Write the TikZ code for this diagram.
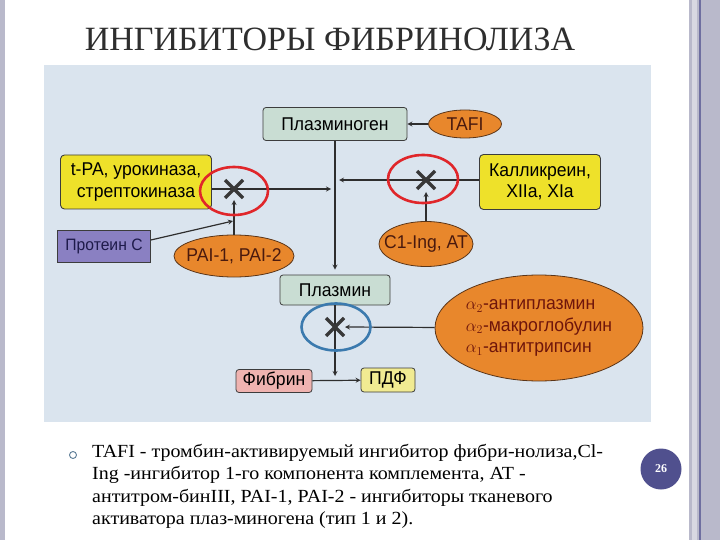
\documentclass[tikz,border=0pt]{standalone}
\usepackage{fontspec}
\setmainfont{Liberation Serif}
\newfontfamily\figfont[FakeStretch=0.95]{Liberation Sans}
\newfontfamily\notefont[FakeStretch=1.08]{Liberation Serif}
\usetikzlibrary{shapes.geometric}

\definecolor{figbg}{HTML}{DAE4EE}
\definecolor{plgfill}{HTML}{C9DDD3}
\definecolor{boxedge}{HTML}{3C3C3C}
\definecolor{actfill}{HTML}{EEE12A}
\definecolor{inhfill}{HTML}{E8872C}
\definecolor{inhedge}{HTML}{5B3518}
\definecolor{inhtext}{HTML}{4A1A0E}
\definecolor{protfill}{HTML}{8A80C2}
\definecolor{prottext}{HTML}{1E1A4A}
\definecolor{fibfill}{HTML}{EFB3B0}
\definecolor{pdffill}{HTML}{F1EB92}
\definecolor{linkcol}{HTML}{2E2E2E}
\definecolor{xcol}{HTML}{383838}
\definecolor{ringred}{HTML}{E0262A}
\definecolor{ringblue}{HTML}{3B7AAE}
\definecolor{pagenum}{HTML}{50508E}
\definecolor{bordlight}{HTML}{B9B9CB}
\definecolor{bordpale}{HTML}{D8D8E2}
\definecolor{borddark}{HTML}{6E6EA0}
\definecolor{titletext}{HTML}{2E2E2E}

\newcommand\figtxt{\figfont\fontsize{18.5}{21.5}\selectfont}
\newcommand\nowidth[1]{\makebox[0pt]{#1}}

\begin{document}
\begin{tikzpicture}[->,>=stealth,x=1pt,y=-1pt,
	link/.style={draw=linkcol,line width=1.2pt},
	plbox/.style={draw=boxedge,fill=plgfill,line width=0.8pt,rounded corners=3pt,inner sep=0pt,font=\figtxt},
	actbox/.style={draw=boxedge,fill=actfill,line width=0.9pt,rounded corners=4pt,inner sep=0pt,align=center,font=\figtxt},
	inhib/.style={ellipse,draw=inhedge,fill=inhfill,line width=0.8pt,inner sep=0pt,text=inhtext,font=\figtxt},
	ring/.style={ellipse,line width=2.6pt,inner sep=0pt},
	xmark/.style={-,draw=xcol,line width=3.2pt}]
	\useasboundingbox (0,0) rectangle (720,540);
	\fill[white] (0,0) rectangle (720,540);
	\fill[bordlight] (0,0) rectangle (5,540);
	\fill[bordlight] (689,0) rectangle (720,540);
	\fill[bordpale] (692,0) rectangle (697,540);
	\fill[borddark] (699,0) rectangle (701,540);
	\fill[figbg] (44,65) rectangle (651,422);
	\node (ttl) at (330,39) {\color{titletext}\fontsize{34}{40}\selectfont ИНГИБИТОРЫ ФИБРИНОЛИЗА};
	\node (plg) [plbox, minimum width=144pt, minimum height=33pt] at (335,124) {Плазминоген};
	\node (tafi) [inhib, minimum width=73pt, minimum height=28pt, node distance=130pt, right of=plg] {TAFI};
	\coordinate (xl) at (234,189);
	\coordinate (xr) at (426,180);
	\coordinate (xb) at (335,327);
	\node (tpa) [actbox, minimum width=151pt, minimum height=54pt] at (136,182) {t-PA, урокиназа,\\стрептокиназа};
	\node (kal) [actbox, minimum width=121pt, minimum height=55pt] at (540,182) {Калликреин,\\XIIa, XIa};
	\node (pai) [inhib, minimum width=120pt, minimum height=42pt, node distance=67pt, below of=xl] {\nowidth{PAI-1, PAI-2}};
	\node (prot) [draw=boxedge, fill=protfill, line width=0.8pt, inner sep=0pt, minimum width=93pt, minimum height=32pt, text=prottext, font=\figfont\fontsize{16.5}{20}\selectfont] at (104,246) {Протеин С};
	\node (c1) [inhib, minimum width=94pt, minimum height=45pt, node distance=64pt, below of=xr] {\nowidth{C1-Ing, AT}};
	\node (plm) [plbox, minimum width=110pt, minimum height=30pt, node distance=166pt, below of=plg] {Плазмин};
	\node (alpha) [inhib, minimum width=208pt, minimum height=106pt, align=left, text=inhtext!80!red] at (539,328) {$\alpha_2$-антиплазмин\\$\alpha_2$-макроглобулин\\$\alpha_1$-антитрипсин};
	\node (fib) [plbox, fill=fibfill, minimum width=76pt, minimum height=23pt] at (274,381) {Фибрин};
	\node (pdf) [plbox, fill=pdffill, minimum width=54pt, minimum height=24pt] at (388,380) {ПДФ};
	\coordinate (pj) at (233,221);
	\draw[link] (tafi) -- (plg);
	\draw[link, shorten >=5pt] (plg) -- (plm);
	\draw[link] (tpa.east |- xl) -- ([xshift=-4pt]plg.south |- xl);
	\draw[link] (kal.west |- xr) -- ([xshift=4pt]plg.south |- xr);
	\draw[link] (pai) -- ([yshift=-11pt]xl);
	\draw[link] ([yshift=6pt]prot.east) -- (pj);
	\draw[link] (c1) -- ([yshift=-12pt]xr);
	\draw[link] (alpha) -- ([xshift=10pt]xb);
	\draw[link] (plm) -- ([yshift=5pt]plm.south |- fib);
	\draw[link] (fib) -- (pdf);
	\draw[xmark] ([shift={(-9,-9)}]xl) -- ([shift={(9,9)}]xl);
	\draw[xmark] ([shift={(-9,9)}]xl) -- ([shift={(9,-9)}]xl);
	\draw[xmark] ([shift={(-9,-9)}]xr) -- ([shift={(9,9)}]xr);
	\draw[xmark] ([shift={(-9,9)}]xr) -- ([shift={(9,-9)}]xr);
	\draw[xmark] ([shift={(-9,-9)}]xb) -- ([shift={(9,9)}]xb);
	\draw[xmark] ([shift={(-9,9)}]xb) -- ([shift={(9,-9)}]xb);
	\node (rl) [ring, draw=ringred, minimum width=68pt, minimum height=48pt] at (234,191) {};
	\node (rr) [ring, draw=ringred, minimum width=70pt, minimum height=48pt] at (423,179) {};
	\node (rb) [ring, draw=ringblue, minimum width=69pt, minimum height=47pt] at (336,327) {};
	\node (dot) [circle, draw=ringblue!50!gray, line width=0.9pt, minimum size=7pt, inner sep=0pt] at (73,455) {};
	\node (note) [anchor=north west, align=left, inner sep=0pt, font=\notefont\fontsize{18.5}{22.5}\selectfont] at (92,444) {TAFI - тромбин-активируемый ингибитор фибри-нолиза,Cl-\\Ing -ингибитор 1-го компонента комплемента, AT -\\антитром-бинIII, PAI-1, PAI-2 - ингибиторы тканевого\\активатора плаз-миногена (тип 1 и 2).};
	\node (pg) [circle, fill=pagenum, minimum size=41pt, inner sep=0pt, text=white, font=\fontsize{12}{14}\selectfont\bfseries] at (661,469) {26};
\end{tikzpicture}
\end{document}
